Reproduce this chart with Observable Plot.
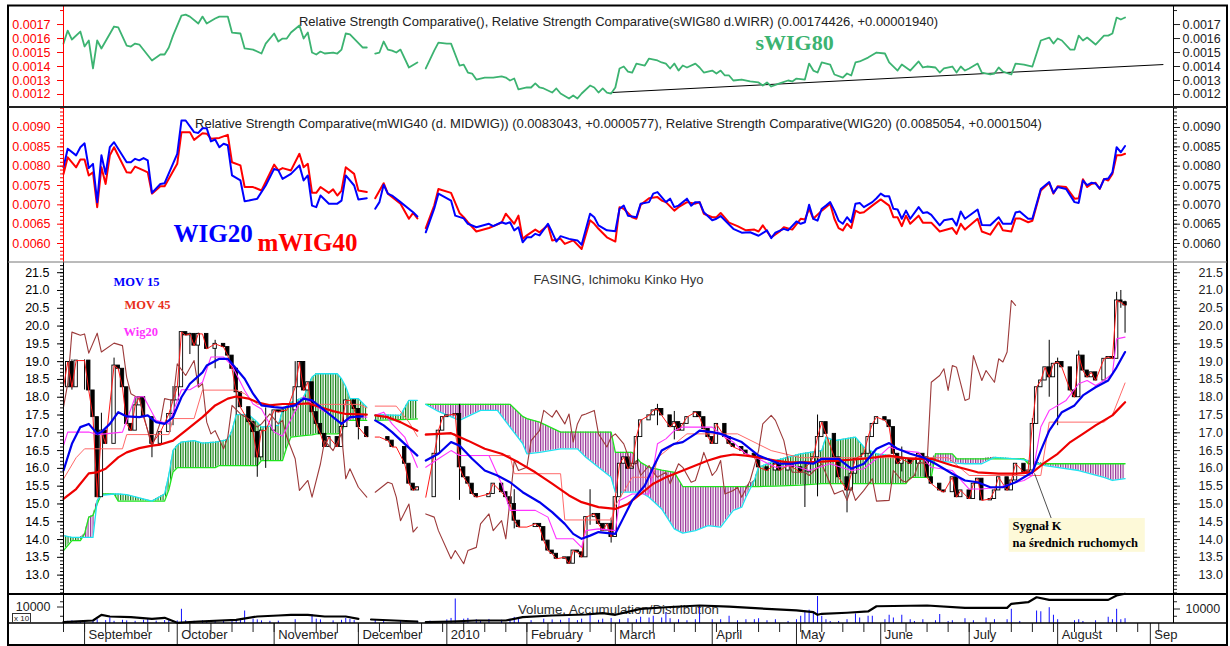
<!DOCTYPE html>
<html><head><meta charset="utf-8">
<script src="https://cdn.jsdelivr.net/npm/d3@7"></script>
<script src="https://cdn.jsdelivr.net/npm/@observablehq/plot@0.6"></script>
<style>
body{margin:0;background:#fff;}
#chart{position:relative;width:1230px;height:646px;overflow:hidden;background:#fff;font-family:"Liberation Sans",Arial,sans-serif;}
</style></head><body>
<div id="chart">
<svg width="0" height="0" style="position:absolute"><defs>
<pattern id="hatchG" patternUnits="userSpaceOnUse" width="2.5" height="8"><rect x="0" y="0" width="1.2" height="8" fill="#0f7f0f"/></pattern>
<pattern id="hatchP" patternUnits="userSpaceOnUse" width="2.5" height="8"><rect x="0" y="0" width="1.2" height="8" fill="#972f97"/></pattern>
</defs></svg>
</div>
<script>
// ---------- DATA (x = trading-day index from late Aug 2009) ----------
const monthLabels = ["September","October","November","December","2010","February","March","April","May","June","July","August","Sep"];
const monthStarts = [5,27,50,70,91,110,131,154,174,194,215,236,258];

// Panel 1: sWIG80 relative strength (units of 1e-4)
const sWIG80 = [[0,15.64],[1,16.57],[2,15.93],[4,16.50],[5,15.43],[6,15.86],[7,13.86],[8,15.86],[9,15.29],[12,16.86],[13,16.79],[15,15.5],[16,15.43],[17,15.64],[18,15.57],[21,14.43],[23,14.86],[24,14.86],[25,15.36],[26,16.21],[28,17.64],[29,17.71],[30,17.57],[32,17.07],[33,17.57],[34,17.07],[36,17.43],[37,17.57],[39,17.57],[40,16.43],[42,16.36],[43,15.29],[45,15.21],[47,14.93],[48,15.64],[50,16.36],[51,15.79],[52,16.0],[53,16.0],[54,16.43],[56,16.93],[57,16.0],[58,16.43],[59,15.0],[60,14.86],[61,15.07],[62,14.93],[64,15.0],[65,14.93],[66,15.21],[67,16.36],[68,16.29],[71,15.36],[72,15.36],[73,null],[74,14.93],[75,15.0],[76,15.79],[77,15.21],[78,15.14],[79,15.0],[80,15.21],[82,13.93],[84,14.29],[85,null],[86,13.86],[88,15.14],[89,15.71],[91,15.64],[92,15.64],[94,14.07],[95,14.14],[96,13.57],[97,13.5],[98,13.07],[100,13.21],[102,13.21],[104,13.29],[105,13.21],[106,13.0],[107,13.14],[108,12.36],[110,12.5],[111,12.5],[112,12.79],[113,12.5],[114,12.43],[116,12.14],[117,12.43],[118,12.07],[120,11.71],[121,11.93],[122,11.71],[123,12.07],[125,12.64],[126,12.5],[127,12.14],[128,12.43],[129,12.14],[130,12.07],[131,12.5],[132,13.86],[133,14.0],[134,13.64],[135,13.57],[136,14.21],[138,14.07],[139,14.57],[141,14.43],[142,14.29],[143,14.21],[144,13.86],[145,14.21],[146,13.71],[147,14.07],[148,13.93],[150,14.21],[151,13.93],[152,13.57],[154,13.71],[155,13.5],[156,13.71],[157,13.36],[158,13.36],[159,13.0],[161,13.07],[163,12.93],[165,12.86],[166,12.64],[167,12.86],[168,12.57],[170,12.79],[172,13.0],[173,12.93],[174,13.14],[176,13.07],[177,14.21],[178,13.71],[179,13.57],[180,14.29],[182,14.14],[183,13.43],[185,13.21],[186,13.5],[187,13.36],[188,14.29],[189,14.36],[191,14.64],[193,15.0],[195,14.93],[196,14.29],[198,13.71],[199,14.14],[201,13.71],[203,14.36],[204,13.93],[205,14.0],[207,13.93],[208,13.57],[209,13.86],[211,14.0],[212,13.57],[213,14.0],[214,13.71],[215,13.86],[217,14.21],[218,13.57],[220,13.43],[221,13.5],[222,13.93],[223,13.64],[225,13.43],[226,14.21],[228,14.14],[230,14.0],[231,14.93],[232,15.86],[234,16.07],[235,15.64],[236,16.0],[237,15.86],[239,15.21],[240,15.21],[241,16.21],[242,15.86],[243,16.07],[245,15.57],[247,16.21],[248,16.21],[249,16.36],[250,17.5],[251,17.36],[252,17.5]];
const sWIG80Trend = [[130,12.14],[261,14.14]];

// Panel 2: WIG20 and mWIG40 relative strength (units of 1e-4)
const wig20RS = [[0,79.7],[1,84.5],[3,82.8],[4,84.9],[5,85.9],[6,79.5],[7,80.6],[8,70.7],[9,82.8],[10,78.0],[11,84.9],[12,86.2],[15,81.0],[16,81.0],[17,81.9],[18,81.5],[19,82.1],[20,81.5],[21,73.1],[23,75.4],[24,75.6],[27,83.2],[28,91.8],[29,91.8],[31,88.8],[32,88.6],[33,89.8],[34,89.8],[35,86.4],[36,86.9],[37,84.9],[38,85.8],[39,85.4],[40,77.6],[42,76.3],[43,70.9],[44,71.1],[46,71.6],[48,75.0],[50,79.3],[51,78.9],[52,76.7],[54,78.0],[56,80.2],[57,76.3],[58,77.6],[59,69.8],[60,69.4],[61,72.4],[63,70.3],[65,70.3],[66,71.1],[67,77.6],[69,75.0],[70,71.4],[72,71.7],[73,null],[74,69.0],[75,70.7],[76,75.2],[77,72.9],[78,72.4],[80,70.7],[83,68.1],[84,67.0],[85,null],[86,62.9],[88,69.0],[89,72.9],[92,71.1],[93,67.2],[95,66.5],[96,65.1],[98,64.2],[101,65.1],[102,64.5],[104,65.5],[105,65.1],[106,65.5],[107,63.4],[108,64.2],[109,60.3],[110,61.6],[111,61.6],[112,62.5],[113,62.1],[115,65.1],[116,62.9],[117,60.5],[118,61.9],[120,61.2],[122,60.8],[123,59.7],[125,67.7],[126,66.8],[127,64.7],[129,63.4],[131,63.2],[132,69.0],[133,69.8],[134,67.2],[136,66.8],[137,70.3],[139,70.7],[140,72.9],[141,73.3],[142,72.0],[143,70.7],[144,71.6],[145,69.4],[146,69.8],[148,71.6],[149,69.8],[150,70.7],[151,70.7],[152,68.1],[154,66.0],[155,66.4],[156,67.1],[157,66.0],[159,63.8],[161,62.8],[163,62.9],[165,62.0],[167,63.4],[168,61.4],[169,62.8],[171,63.8],[172,63.4],[174,65.7],[175,65.1],[176,65.5],[177,70.0],[178,66.4],[179,65.9],[180,69.0],[181,69.8],[182,70.7],[183,68.5],[184,65.9],[185,65.1],[186,66.8],[187,65.5],[188,70.3],[189,70.5],[190,69.4],[192,70.7],[193,71.7],[194,72.9],[195,72.2],[196,72.2],[197,69.0],[198,68.8],[199,66.4],[200,68.5],[201,66.4],[203,69.4],[204,67.9],[205,68.1],[206,67.4],[208,64.7],[209,66.0],[211,66.4],[212,64.7],[213,68.3],[214,66.4],[217,68.8],[218,64.8],[220,64.7],[222,66.8],[223,65.1],[225,65.1],[226,68.0],[227,68.3],[229,66.4],[230,66.4],[232,74.1],[234,75.9],[235,73.1],[236,74.6],[238,74.1],[240,70.7],[241,70.5],[242,76.3],[243,75.1],[244,75.7],[245,75.5],[246,74.2],[247,76.6],[248,76.8],[249,78.4],[250,84.9],[251,83.6],[252,85.2]];
const mwig40RS = [[0,78.0],[1,82.3],[3,79.7],[4,81.7],[5,81.7],[6,77.6],[7,78.4],[8,69.4],[9,79.7],[10,75.4],[11,82.8],[12,84.9],[15,78.4],[16,78.3],[17,79.9],[19,78.9],[20,78.4],[21,72.9],[23,74.8],[24,74.8],[27,80.6],[28,88.8],[30,88.8],[31,86.8],[33,88.5],[34,88.4],[35,87.1],[37,87.3],[39,88.1],[40,81.0],[42,80.2],[43,74.6],[45,74.6],[47,73.7],[50,80.4],[51,78.9],[52,79.5],[54,78.9],[56,83.2],[57,79.7],[58,80.6],[59,73.1],[60,73.1],[61,74.6],[63,73.1],[64,74.0],[65,72.4],[66,73.7],[67,79.7],[69,78.0],[70,73.7],[72,73.3],[73,null],[74,71.7],[76,75.6],[77,72.9],[80,70.3],[82,66.4],[83,67.9],[84,66.5],[85,null],[86,64.0],[88,69.8],[89,74.1],[92,73.1],[94,67.9],[95,66.8],[96,65.5],[98,63.1],[101,64.0],[104,65.4],[105,67.7],[107,65.1],[108,67.2],[109,61.2],[110,62.1],[112,63.6],[113,62.9],[115,64.7],[116,60.8],[118,61.2],[119,59.9],[121,60.8],[123,58.6],[125,66.0],[126,65.1],[127,63.8],[129,61.6],[131,60.5],[132,69.4],[133,69.0],[135,66.8],[136,66.4],[137,70.0],[139,71.7],[141,72.0],[142,71.1],[143,70.7],[145,68.5],[146,69.4],[148,70.7],[150,70.3],[151,70.7],[152,67.7],[154,66.8],[155,66.8],[156,67.9],[158,65.4],[160,64.5],[162,63.4],[164,63.6],[165,63.1],[166,64.7],[167,63.1],[168,61.6],[170,63.1],[171,64.2],[173,63.6],[175,66.4],[176,66.2],[177,69.0],[178,66.4],[180,68.5],[181,69.4],[182,70.3],[183,66.4],[184,64.0],[185,63.4],[186,65.1],[187,64.0],[188,68.5],[189,67.9],[190,68.1],[192,69.8],[194,71.4],[196,69.8],[197,66.8],[198,66.8],[199,64.5],[200,67.2],[201,65.1],[203,67.2],[204,65.4],[206,65.4],[208,63.1],[211,64.0],[212,62.5],[213,65.1],[214,63.6],[217,66.4],[218,63.1],[220,62.3],[222,65.5],[223,63.4],[225,63.1],[226,66.5],[227,66.5],[229,65.5],[230,65.9],[232,73.7],[234,75.7],[235,72.9],[236,74.8],[238,74.6],[240,71.6],[241,71.7],[242,76.6],[243,74.6],[244,75.4],[245,75.7],[246,74.1],[247,76.7],[248,76.3],[249,78.0],[250,82.8],[251,82.8],[252,83.2]];

// Panel 3: FASING price and Ichimoku
const closePrice = [[0,18.28],[1,18.99],[2,18.28],[3,19.03],[5,19.03],[6,18.19],[7,17.44],[8,15.19],[9,17.06],[10,16.69],[12,18.89],[13,18.80],[14,18.28],[15,17.25],[16,17.06],[17,17.77],[18,18.0],[19,17.44],[21,16.69],[23,17.02],[25,17.53],[26,17.91],[27,18.28],[28,19.83],[29,19.74],[30,19.78],[31,19.45],[32,19.78],[33,19.78],[34,19.36],[36,19.50],[38,19.41],[39,19.17],[40,18.80],[41,18.14],[42,17.72],[44,17.30],[45,17.02],[46,16.31],[47,17.06],[48,17.06],[50,17.63],[51,17.58],[52,17.63],[53,17.63],[55,18.28],[56,18.99],[57,18.19],[58,18.42],[59,17.58],[60,17.25],[61,16.97],[62,16.60],[63,16.88],[65,16.60],[66,17.16],[67,17.91],[68,17.91],[69,17.67],[70,17.16],[72,16.88],[73,null],[74,16.88],[75,16.88],[77,16.78],[78,16.60],[79,16.60],[81,16.13],[82,15.57],[83,15.38],[84,15.47],[85,null],[86,15.19],[88,16.41],[89,17.06],[90,17.44],[91,17.49],[93,17.53],[94,16.03],[95,15.75],[96,15.57],[97,15.28],[98,15.19],[101,15.28],[102,15.57],[104,15.33],[105,15.19],[106,15.0],[107,14.53],[108,14.35],[110,14.35],[112,14.44],[113,14.35],[114,13.97],[115,13.69],[116,13.60],[117,13.46],[119,13.50],[120,13.32],[121,13.69],[122,13.64],[123,13.50],[124,14.63],[126,14.72],[127,14.44],[128,14.25],[129,14.44],[130,14.07],[131,15.19],[132,16.13],[133,16.31],[134,15.99],[135,16.13],[136,16.88],[137,17.35],[139,17.49],[140,17.63],[141,17.67],[142,17.49],[144,17.16],[145,17.30],[146,17.06],[147,17.25],[148,17.44],[150,17.58],[151,17.44],[152,17.11],[153,16.88],[154,16.69],[155,17.25],[157,16.88],[158,16.69],[159,16.60],[161,16.50],[162,16.41],[164,16.31],[165,16.03],[167,15.94],[169,16.13],[170,15.94],[172,16.08],[173,16.03],[175,15.89],[177,16.13],[178,16.31],[179,16.88],[180,17.30],[181,16.97],[183,16.31],[184,15.75],[186,15.38],[187,15.85],[188,16.27],[190,16.41],[191,16.88],[192,17.25],[193,17.44],[195,17.35],[196,17.16],[197,16.41],[198,16.13],[199,16.27],[201,16.13],[203,16.41],[204,16.31],[205,15.75],[206,15.57],[208,15.38],[209,15.33],[211,15.75],[212,15.19],[213,15.38],[215,15.14],[216,15.57],[217,15.71],[218,15.10],[220,15.14],[221,15.38],[222,15.75],[224,15.38],[225,15.66],[226,16.13],[228,15.89],[229,15.94],[230,17.25],[231,18.28],[232,18.47],[233,18.84],[234,18.56],[235,18.94],[236,18.99],[237,18.84],[239,18.19],[240,18.0],[241,19.17],[242,18.75],[243,18.56],[244,18.70],[245,18.47],[247,19.08],[248,19.13],[249,19.08],[250,20.72],[251,20.67],[252,20.58]];
const priceWicks = [[2,18.2,19.05],[5,18.2,19.05],[9,16.5,17.55],[12,18.0,19.1],[17,17.5,18.0],[21,16.3,17.1],[26,17.2,18.3],[30,19.2,19.8],[32,18.3,19.8],[36,18.8,19.6],[41,17.5,18.2],[46,15.75,17.0],[48,16.0,17.7],[55,17.8,19.0],[57,18.2,19.0],[70,16.8,17.5],[94,15.1,17.8],[107,14.3,15.4],[125,14.4,15.4],[130,13.9,14.6],[141,17.2,17.8],[145,16.8,17.6],[176,14.9,16.2],[179,15.2,17.5],[186,14.75,15.6],[199,15.9,16.6],[230,15.8,17.4],[234,18.0,19.6],[236,17.2,19.1],[241,18.0,19.3],[250,20.2,20.95],[251,20.5,21.0],[252,19.8,20.7]];
const kijun = [[0,15.7],[3,16.3],[5,16.55],[14,16.55],[15,16.95],[25,16.95],[26,17.4],[31,17.4],[33,18.2],[41,18.2],[43,18.1],[46,17.8],[70,17.8],[72,17.7],[73,null],[74,17.75],[79,17.75],[82,17.3],[84,16.9],[85,null],[86,16.97],[93,16.97],[94,16.36],[106,16.36],[107,15.85],[118,15.85],[119,14.55],[130,14.55],[131,14.95],[135,15.75],[140,15.75],[141,16.3],[148,16.97],[160,16.97],[168,16.5],[175,16.3],[210,16.3],[215,15.8],[232,15.8],[234,17.3],[247,17.3],[249,17.5],[252,18.4]];
const chikou = [[0,17.72],[1,18.38],[2,19.83],[4,19.74],[5,19.78],[6,19.24],[8,19.80],[9,19.27],[12,19.52],[14,19.45],[15,18.56],[16,18.10],[18,17.96],[21,16.60],[23,17.30],[24,17.96],[26,17.91],[27,18.94],[29,18.61],[31,19.03],[32,18.28],[33,18.38],[34,17.30],[35,16.97],[36,17.06],[38,16.55],[39,16.88],[40,17.77],[42,17.53],[44,17.39],[46,17.16],[47,17.25],[49,17.53],[51,17.25],[52,17.35],[53,16.88],[55,16.27],[56,15.38],[58,15.66],[59,15.19],[61,16.13],[62,16.78],[64,16.50],[66,16.97],[67,15.71],[68,15.99],[70,15.47],[72,15.19],[73,null],[74,15.33],[77,15.61],[78,15.57],[79,15.19],[80,14.53],[82,15.0],[83,14.21],[84,14.35],[85,null],[86,14.72],[88,14.63],[89,14.25],[92,13.46],[93,13.69],[95,13.32],[96,13.69],[98,13.78],[99,14.44],[101,14.72],[102,14.25],[104,14.53],[105,14.02],[107,16.22],[108,15.94],[110,16.03],[111,16.78],[113,17.06],[114,17.63],[116,17.44],[117,17.63],[119,17.25],[120,17.53],[121,16.74],[122,17.25],[123,17.49],[124,17.53],[126,17.63],[127,16.97],[129,16.60],[130,16.88],[131,16.97],[133,16.69],[135,16.03],[136,16.22],[137,15.80],[139,16.08],[140,15.89],[141,15.75],[143,15.89],[144,15.57],[146,16.13],[147,16.03],[149,15.61],[150,15.66],[151,16.03],[152,16.45],[153,16.13],[154,15.80],[155,15.94],[156,16.22],[157,15.28],[159,15.38],[160,15.47],[161,15.19],[163,15.66],[165,16.50],[166,17.25],[168,17.49],[169,17.35],[171,16.78],[172,16.22],[173,15.89],[176,15.89],[177,15.80],[180,16.13],[182,15.57],[183,15.28],[185,15.38],[186,15.10],[187,15.47],[188,15.10],[190,15.38],[192,15.71],[193,15.08],[196,15.10],[197,15.94],[199,15.66],[200,15.61],[202,15.80],[203,16.17],[205,16.13],[206,18.42],[208,18.61],[209,18.80],[210,18.19],[211,18.89],[212,18.84],[214,17.91],[215,17.96],[216,19.17],[218,18.47],[219,18.75],[221,18.42],[222,19.08],[223,18.99],[224,19.27],[225,20.72],[226,20.58]];
const wig20Line = [[0,16.64],[1,17.02],[6,17.02],[8,16.95],[14,17.02],[17,18.0],[19,18.02],[22,17.35],[25,17.25],[26,17.58],[28,18.21],[30,18.21],[33,18.42],[35,19.13],[38,19.13],[40,18.89],[43,18.19],[45,17.81],[47,17.67],[50,17.02],[52,16.90],[55,17.61],[57,18.02],[59,17.81],[63,17.53],[66,17.25],[69,17.46],[72,17.44],[73,null],[74,17.49],[76,17.58],[78,17.25],[81,16.88],[84,16.03],[85,null],[86,16.03],[89,16.27],[92,16.50],[94,16.36],[101,16.36],[104,15.57],[106,14.82],[112,14.82],[115,14.63],[117,14.02],[121,14.02],[123,13.78],[124,14.25],[127,14.30],[131,14.25],[132,15.10],[135,15.28],[139,15.28],[141,16.69],[143,16.83],[145,17.06],[147,17.16],[151,17.16],[154,17.16],[157,16.88],[159,16.74],[162,16.41],[165,16.27],[169,16.03],[173,16.08],[177,15.94],[182,16.13],[187,15.94],[190,15.99],[193,16.27],[196,16.60],[199,16.50],[203,16.45],[206,16.03],[211,15.94],[215,15.42],[218,15.42],[222,15.47],[225,15.57],[228,15.66],[230,15.80],[232,17.16],[234,17.63],[236,17.77],[238,17.91],[241,18.38],[243,18.47],[245,18.33],[247,18.47],[249,18.66],[250,19.64],[252,19.69]];
const mov15 = [[0,15.94],[2,16.69],[4,17.16],[6,17.25],[8,16.97],[9,17.02],[11,17.25],[13,17.58],[15,17.46],[18,17.44],[20,17.49],[22,17.30],[24,17.25],[26,17.44],[28,18.0],[30,18.38],[33,18.70],[34,18.89],[37,19.08],[39,19.08],[40,18.94],[43,18.52],[45,18.10],[47,17.77],[50,17.72],[52,17.70],[55,17.77],[57,17.96],[59,17.91],[62,17.63],[64,17.44],[66,17.25],[68,17.44],[71,17.46],[73,null],[74,17.35],[76,17.21],[78,17.02],[81,16.69],[84,16.36],[85,null],[86,16.22],[89,16.41],[92,16.74],[94,16.64],[97,16.27],[100,15.94],[103,15.80],[106,15.61],[109,15.33],[113,15.05],[116,14.77],[119,14.44],[121,14.16],[123,14.02],[125,14.11],[127,14.21],[131,14.16],[133,14.63],[135,15.10],[138,15.52],[140,16.03],[142,16.50],[145,16.69],[147,16.74],[150,16.97],[151,17.06],[154,17.02],[156,16.97],[158,16.88],[161,16.74],[163,16.55],[165,16.36],[168,16.22],[170,16.13],[173,16.13],[175,16.17],[178,16.13],[180,16.27],[184,16.27],[187,15.99],[190,16.13],[193,16.55],[196,16.71],[198,16.55],[201,16.41],[204,16.31],[207,16.13],[211,15.85],[214,15.66],[217,15.61],[220,15.47],[223,15.47],[226,15.61],[230,15.89],[232,16.50],[234,17.06],[237,17.58],[240,17.77],[242,18.05],[245,18.28],[248,18.47],[250,18.84],[252,19.27]];
const mov45 = [[0,15.14],[3,15.42],[6,15.86],[8,15.89],[10,15.99],[13,16.31],[15,16.45],[18,16.57],[21,16.64],[23,16.67],[26,16.78],[29,17.06],[33,17.44],[36,17.77],[39,17.96],[41,18.02],[44,17.96],[46,17.86],[49,17.77],[52,17.81],[56,17.81],[58,17.83],[61,17.72],[64,17.61],[67,17.53],[72,17.51],[73,null],[74,17.49],[77,17.44],[80,17.30],[84,17.06],[85,null],[86,16.95],[92,16.99],[96,16.78],[100,16.55],[104,16.41],[108,16.17],[112,15.89],[116,15.57],[120,15.24],[123,15.05],[127,14.91],[131,14.86],[134,15.0],[137,15.28],[140,15.57],[143,15.75],[146,15.89],[150,16.08],[153,16.22],[156,16.33],[159,16.39],[162,16.36],[165,16.31],[169,16.22],[172,16.17],[177,16.17],[184,16.22],[190,16.27],[196,16.36],[201,16.27],[206,16.27],[211,16.08],[217,15.89],[222,15.85],[226,15.85],[230,15.89],[233,16.17],[236,16.41],[239,16.74],[242,16.97],[245,17.21],[249,17.49],[252,17.86]];
// Ichimoku cloud: [day, Senkou A, Senkou B]
const cloud = [[0,14.11,13.69],[2,14.06,13.97],[4,14.06,13.97],[5,14.06,14.16],[6,14.06,14.63],[7,14.06,14.68],[8,15.10,15.0],[9,15.24,15.28],[12,15.28,15.28],[13,15.28,15.08],[15,15.26,15.08],[18,15.17,15.08],[21,15.08,15.08],[24,15.28,15.08],[25,15.80,15.40],[26,16.50,15.90],[27,16.65,16.02],[28,16.74,16.02],[31,16.78,16.02],[33,16.71,16.02],[36,16.74,16.02],[37,16.76,16.08],[39,16.81,16.08],[40,17.06,16.08],[41,17.51,16.08],[44,17.51,16.08],[46,17.30,16.08],[47,17.16,16.22],[51,17.21,16.22],[52,17.63,16.22],[53,17.75,16.60],[54,17.85,16.88],[57,18.0,16.92],[59,18.56,16.94],[60,18.66,16.97],[65,18.66,16.97],[66,18.52,17.02],[67,18.30,17.35],[68,17.96,17.35],[70,17.96,17.35],[72,17.72,17.35],[73,null,null],[74,17.51,17.35],[80,17.49,17.37],[82,17.91,17.38],[84,17.91,17.39],[85,null,null],[86,17.80,17.80],[89,17.60,17.80],[94,17.35,17.80],[99,17.63,17.80],[103,17.63,17.80],[106,17.16,17.80],[109,16.70,17.46],[110,16.41,17.40],[113,16.45,17.30],[118,16.55,17.02],[122,16.55,17.02],[124,16.31,17.02],[127,16.03,17.02],[130,15.75,17.02],[131,15.33,16.45],[135,15.33,16.45],[137,15.33,16.17],[139,15.19,16.03],[142,14.86,15.95],[145,14.30,15.89],[147,14.18,15.49],[150,14.25,15.49],[153,14.39,15.49],[156,14.35,15.49],[159,14.82,15.49],[161,14.91,15.49],[162,15.19,15.49],[164,15.66,15.49],[165,16.03,15.49],[169,16.22,15.50],[175,16.41,15.53],[180,16.50,15.57],[181,16.88,15.57],[183,16.78,15.57],[188,16.88,15.57],[190,16.60,15.57],[193,16.41,15.57],[199,16.31,15.57],[200,16.30,15.57],[201,16.29,15.75],[206,16.22,15.75],[207,16.22,16.41],[211,16.17,16.41],[212,16.15,16.27],[214,16.13,16.27],[218,16.13,16.27],[221,16.31,16.27],[226,16.27,16.27],[228,16.24,16.27],[229,16.22,16.13],[233,16.08,16.13],[241,15.94,16.13],[247,15.75,16.13],[249,15.66,16.13],[252,15.71,16.13]];
const signalNote = {t: 230.5, v: 15.86, boxT1: 224.5, boxT2: 256.8, boxV1: 13.64, boxV2: 14.59, textT: 225.3, line1V: 14.37, line2V: 13.90, line1: "Sygnał K", line2: "na średnich ruchomych"};

// Panel 4: volume and accumulation/distribution
const volume = [[1,1500],[2,1800],[3,1400],[4,1500],[5,2000],[7,1600],[8,2600],[10,2000],[11,3800],[12,1500],[14,2200],[15,1800],[17,1500],[19,2200],[20,2800],[22,1600],[24,2000],[25,2500],[27,1800],[28,9800],[29,2000],[31,1500],[33,1800],[34,1500],[36,2000],[38,1800],[40,2500],[41,2200],[42,2800],[43,8600],[45,3000],[46,2500],[47,1800],[49,1500],[51,1600],[55,2600],[59,6200],[60,3000],[61,2500],[64,1800],[66,2200],[67,3500],[68,2800],[69,2000],[74,2200],[76,1500],[80,1800],[84,1500],[87,1600],[91,2500],[92,3500],[93,16900],[95,3000],[96,3500],[98,2500],[99,2000],[101,2800],[104,2200],[106,3000],[107,4200],[108,3500],[111,2000],[114,3000],[116,2500],[118,2200],[120,3500],[122,2000],[123,3000],[125,5500],[127,2200],[128,3000],[130,3500],[132,2600],[134,3300],[136,2600],[137,4300],[139,3800],[140,5000],[142,3800],[143,7400],[144,3300],[146,2600],[148,1900],[150,2600],[151,12400],[154,2600],[156,2600],[158,5000],[160,1900],[162,2600],[164,2600],[165,3300],[167,1900],[169,2600],[172,1400],[174,2600],[175,5000],[176,8600],[177,9200],[178,7800],[179,18600],[180,5000],[181,2600],[182,1400],[184,1400],[186,2600],[188,6600],[189,3800],[191,5000],[192,5000],[195,2600],[196,5700],[197,3800],[199,5700],[201,2600],[202,1400],[204,2600],[207,1900],[208,6200],[210,1400],[211,1900],[214,3300],[216,1900],[219,3800],[221,2600],[224,2600],[225,9800],[227,1400],[231,8600],[232,8100],[234,10900],[235,5700],[236,2600],[240,1900],[241,2600],[242,1400],[245,1900],[248,4300],[249,2600],[250,9800],[251,2600],[252,3300]];
const accDist = [[0,900],[7,2070],[9,6000],[11,4830],[16,4350],[21,3240],[24,3930],[27,480],[32,1380],[41,2550],[46,4830],[51,5520],[54,6000],[58,6000],[62,4830],[67,4830],[70,3240],[72,null],[73,2760],[84,1380],[85,null],[86,900],[92,1380],[98,2070],[105,2070],[109,4350],[116,5520],[124,6200],[128,7100],[131,6000],[137,10100],[143,11200],[151,12400],[158,11700],[167,10100],[174,9000],[178,7800],[179,6000],[180,6700],[186,7400],[191,8300],[193,11900],[205,12400],[214,10800],[224,10800],[225,13600],[229,14700],[231,18100],[234,16300],[240,16300],[248,16300],[250,19300],[252,20500]];

// ---------- HELPERS ----------
const rows = pairs => pairs.map(([t, v]) => ({t, v: v == null ? NaN : v}));
const X_DOMAIN = [0, 263.5];
const FONT = '"Liberation Sans", Arial, sans-serif';
const SERIF = '"Liberation Serif", "Times New Roman", serif';
const RED = "#ff0000", INK = "#222";
const chart = document.getElementById("chart");

function panel(top, height, yDomain, marks, opts = {}) {
  const svg = Plot.plot({
    width: 1230, height,
    marginLeft: 63, marginRight: 57, marginTop: 0, marginBottom: opts.marginBottom || 0,
    x: Object.assign({domain: X_DOMAIN}, opts.xAxis ? {} : {axis: null}),
    y: {domain: yDomain, label: null},
    style: {fontFamily: FONT, fontSize: "12.5px", background: "transparent", overflow: "visible"},
    marks
  });
  svg.style.position = "absolute";
  svg.style.left = "0px";
  svg.style.top = top + "px";
  svg.style.overflow = "visible";
  chart.appendChild(svg);
}
const fmt4 = v => (v / 1e4).toFixed(4);
function yAxes(major, minor, fmt, leftColor, rightPad, leftPad) {
  return [
    Plot.axisY(minor, {anchor: "left", tickSize: 3, tickFormat: () => "", color: leftColor, label: null}),
    Plot.axisY(major, {anchor: "left", tickSize: 6, tickPadding: leftPad, tickFormat: fmt, color: leftColor, label: null}),
    Plot.axisY(minor, {anchor: "right", tickSize: 3, tickFormat: () => "", color: INK, label: null}),
    Plot.axisY(major, {anchor: "right", tickSize: 6, tickPadding: rightPad, tickFormat: fmt, color: INK, label: null}),
    Plot.ruleX([X_DOMAIN[0]], {stroke: leftColor}),
    Plot.ruleX([X_DOMAIN[1]], {stroke: "#000"})
  ];
}

// ---------- PANEL 1 ----------
panel(6, 101, [11.07, 18.29], [
  Plot.text(["Relative Strength Comparative(), Relative Strength Comparative(sWIG80 d.WIRR) (0.00174426, +0.00001940)"], {text: d => d, frameAnchor: "top", dy: 10, fill: INK, fontSize: 13}),
  Plot.text(["sWIG80"], {text: d => d, frameAnchor: "top-left", dx: 692, dy: 28, textAnchor: "start", fill: "#3cb371", fontFamily: SERIF, fontWeight: "bold", fontSize: 22}),
  Plot.line(rows(sWIG80Trend), {x: "t", y: "v", stroke: "#000", strokeWidth: 1}),
  Plot.line(rows(sWIG80), {x: "t", y: "v", stroke: "#3cb371", strokeWidth: 1.8}),
  ...yAxes([12,13,14,15,16,17], [18], fmt4, RED, 3, 7)
]);

// ---------- PANEL 2 ----------
panel(107, 155, [55.09, 95.17], [
  Plot.text(["Relative Strength Comparative(mWIG40 (d. MIDWIG)) (0.0083043, +0.0000577), Relative Strength Comparative(WIG20) (0.0085054, +0.0001504)"], {text: d => d, frameAnchor: "top", dy: 11.5, fill: INK, fontSize: 13}),
  Plot.text(["WIG20"], {text: d => d, frameAnchor: "top-left", dx: 110, dy: 117, textAnchor: "start", fill: "#0000ff", fontFamily: SERIF, fontWeight: "bold", fontSize: 25}),
  Plot.text(["mWIG40"], {text: d => d, frameAnchor: "top-left", dx: 194, dy: 126, textAnchor: "start", fill: "#ff0000", fontFamily: SERIF, fontWeight: "bold", fontSize: 25}),
  Plot.line(rows(mwig40RS), {x: "t", y: "v", stroke: "#ff0000", strokeWidth: 2}),
  Plot.line(rows(wig20RS), {x: "t", y: "v", stroke: "#0000ff", strokeWidth: 2}),
  ...yAxes([60,65,70,75,80,85,90], d3.range(56, 96), fmt4, RED, 3, 7)
]);

// ---------- PANEL 3 ----------
const cloudRows = cloud.map(([t, a, b]) => ({t, a: a == null ? NaN : a, b: b == null ? NaN : b}));
const candles = [];
{
  let prev = null;
  for (const [t, c] of closePrice) {
    if (c == null) { prev = null; continue; }
    candles.push({t, o: prev == null ? c : prev, c});
    prev = c;
  }
}
const wickRows = priceWicks.map(([t, lo, hi]) => ({t, lo, hi}));
panel(262, 332, [12.455, 21.787], [
  Plot.areaY(cloudRows, {x: "t", y1: "b", y2: d => Math.max(d.a, d.b), fill: "url(#hatchG)"}),
  Plot.areaY(cloudRows, {x: "t", y1: "a", y2: d => Math.max(d.a, d.b), fill: "url(#hatchP)"}),
  Plot.line(cloudRows, {x: "t", y: "b", stroke: "#1ee61e", strokeWidth: 1.3}),
  Plot.line(cloudRows, {x: "t", y: "a", stroke: "#1fe3f0", strokeWidth: 1.3}),
  Plot.ruleX(wickRows, {x: "t", y1: "lo", y2: "hi", stroke: "#000", strokeWidth: 1}),
  Plot.rect(candles, {x1: d => d.t - 0.4, x2: d => d.t + 0.4, y1: "o", y2: "c", fill: d => d.c < d.o ? "#000" : "#fff", stroke: "#000", strokeWidth: 0.9}),
  Plot.line(rows(kijun), {x: "t", y: "v", stroke: "#ff6a6a", strokeWidth: 1}),
  Plot.line(rows(closePrice), {x: "t", y: "v", stroke: "#ff1a1a", strokeWidth: 1}),
  Plot.line(rows(chikou), {x: "t", y: "v", stroke: "#9c3a3a", strokeWidth: 1.1}),
  Plot.line(rows(wig20Line), {x: "t", y: "v", stroke: "#ff33ff", strokeWidth: 1.1}),
  Plot.line(rows(mov45), {x: "t", y: "v", stroke: "#ee0000", strokeWidth: 2.2}),
  Plot.line(rows(mov15), {x: "t", y: "v", stroke: "#0000ee", strokeWidth: 2.2}),
  Plot.text(["FASING, Ichimoku Kinko Hyo"], {text: d => d, frameAnchor: "top", dy: 12, fill: "#333", fontSize: 13}),
  Plot.text(["MOV 15"], {text: d => d, frameAnchor: "top-left", dx: 50, dy: 15, textAnchor: "start", fill: "#0000ff", fontFamily: SERIF, fontWeight: "bold", fontSize: 12.5}),
  Plot.text(["MOV 45"], {text: d => d, frameAnchor: "top-left", dx: 61, dy: 38, textAnchor: "start", fill: "#e8301a", fontFamily: SERIF, fontWeight: "bold", fontSize: 12.5}),
  Plot.text(["Wig20"], {text: d => d, frameAnchor: "top-left", dx: 60, dy: 65, textAnchor: "start", fill: "#ff33ff", fontFamily: SERIF, fontWeight: "bold", fontSize: 12.5}),
  Plot.link([signalNote], {x1: "t", y1: "v", x2: d => d.boxT1 + 10, y2: "boxV2", stroke: "#222", strokeWidth: 0.8}),
  Plot.rect([signalNote], {x1: "boxT1", x2: "boxT2", y1: "boxV1", y2: "boxV2", fill: "#fdf9d8"}),
  Plot.text([signalNote], {x: "textT", y: "line1V", text: "line1", textAnchor: "start", fill: "#000", fontFamily: SERIF, fontWeight: "bold", fontSize: 12.5}),
  Plot.text([signalNote], {x: "textT", y: "line2V", text: "line2", textAnchor: "start", fill: "#000", fontFamily: SERIF, fontWeight: "bold", fontSize: 12.5}),
  ...yAxes(d3.range(26, 44).map(k => k / 2), d3.range(125, 218).map(k => k / 10), v => v.toFixed(1), "#000", 19, 8)
]);

// ---------- PANEL 4 ----------
const monthRows = monthStarts.map((t, i) => ({t, label: monthLabels[i]}));
panel(594, 51, [0, 20000], [
  Plot.text(["Volume, Accumulation/Distribution"], {text: d => d, frameAnchor: "top", dy: 10, fill: "#333", fontSize: 13.3}),
  Plot.ruleX(rows(volume), {x: "t", y1: 0, y2: "v", stroke: "#1010ff", strokeWidth: 1}),
  Plot.line(rows(accDist), {x: "t", y: "v", stroke: "#000", strokeWidth: 2.2}),
  Plot.axisY([5000, 15000], {anchor: "left", tickSize: 3, tickFormat: () => "", color: INK, label: null}),
  Plot.axisY([10000], {anchor: "left", tickSize: 6, tickPadding: 7, tickFormat: d => String(d), color: INK, label: null, dy: -2}),
  Plot.axisY([5000, 15000], {anchor: "right", tickSize: 3, tickFormat: () => "", color: INK, label: null}),
  Plot.axisY([10000], {anchor: "right", tickSize: 6, tickPadding: 6, tickFormat: d => String(d), color: INK, label: null}),
  Plot.ruleX([X_DOMAIN[0]], {stroke: "#000"}),
  Plot.ruleX([X_DOMAIN[1]], {stroke: "#000"}),
  Plot.axisX(d3.range(0, 263, 5), {anchor: "bottom", tickSize: 9, tickFormat: () => "", color: INK, label: null}),
  Plot.axisX(monthStarts, {anchor: "bottom", tickSize: 21, tickFormat: () => "", color: INK, label: null}),
  Plot.text(monthRows, {x: "t", text: "label", frameAnchor: "bottom", dy: 15, dx: 4, textAnchor: "start", fill: INK, fontSize: 13})
], {marginBottom: 22, xAxis: true});

// ---------- FRAME / SEPARATORS (decoration) ----------
const ov = d3.select(chart).append("svg")
  .attr("width", 1230).attr("height", 646)
  .style("position", "absolute").style("left", "0px").style("top", "0px").style("pointer-events", "none");
ov.append("rect").attr("x", 8).attr("y", 5.5).attr("width", 1219).attr("height", 639.5).attr("fill", "none").attr("stroke", "#000").attr("stroke-width", 2);
[[107, "#222", 2], [262, "#777", 1], [594, "#000", 2], [623, "#000", 1.5]].forEach(([y, c, w]) =>
  ov.append("line").attr("x1", 8).attr("x2", 1227).attr("y1", y).attr("y2", y).attr("stroke", c).attr("stroke-width", w));
ov.append("rect").attr("x", 12.5).attr("y", 613.5).attr("width", 18).attr("height", 9).attr("fill", "#fff").attr("stroke", "#333").attr("stroke-width", 1);
ov.append("text").attr("x", 14).attr("y", 621).attr("font-size", 8).attr("font-family", FONT).attr("fill", "#222").text("x 10");
</script>
</body></html>
